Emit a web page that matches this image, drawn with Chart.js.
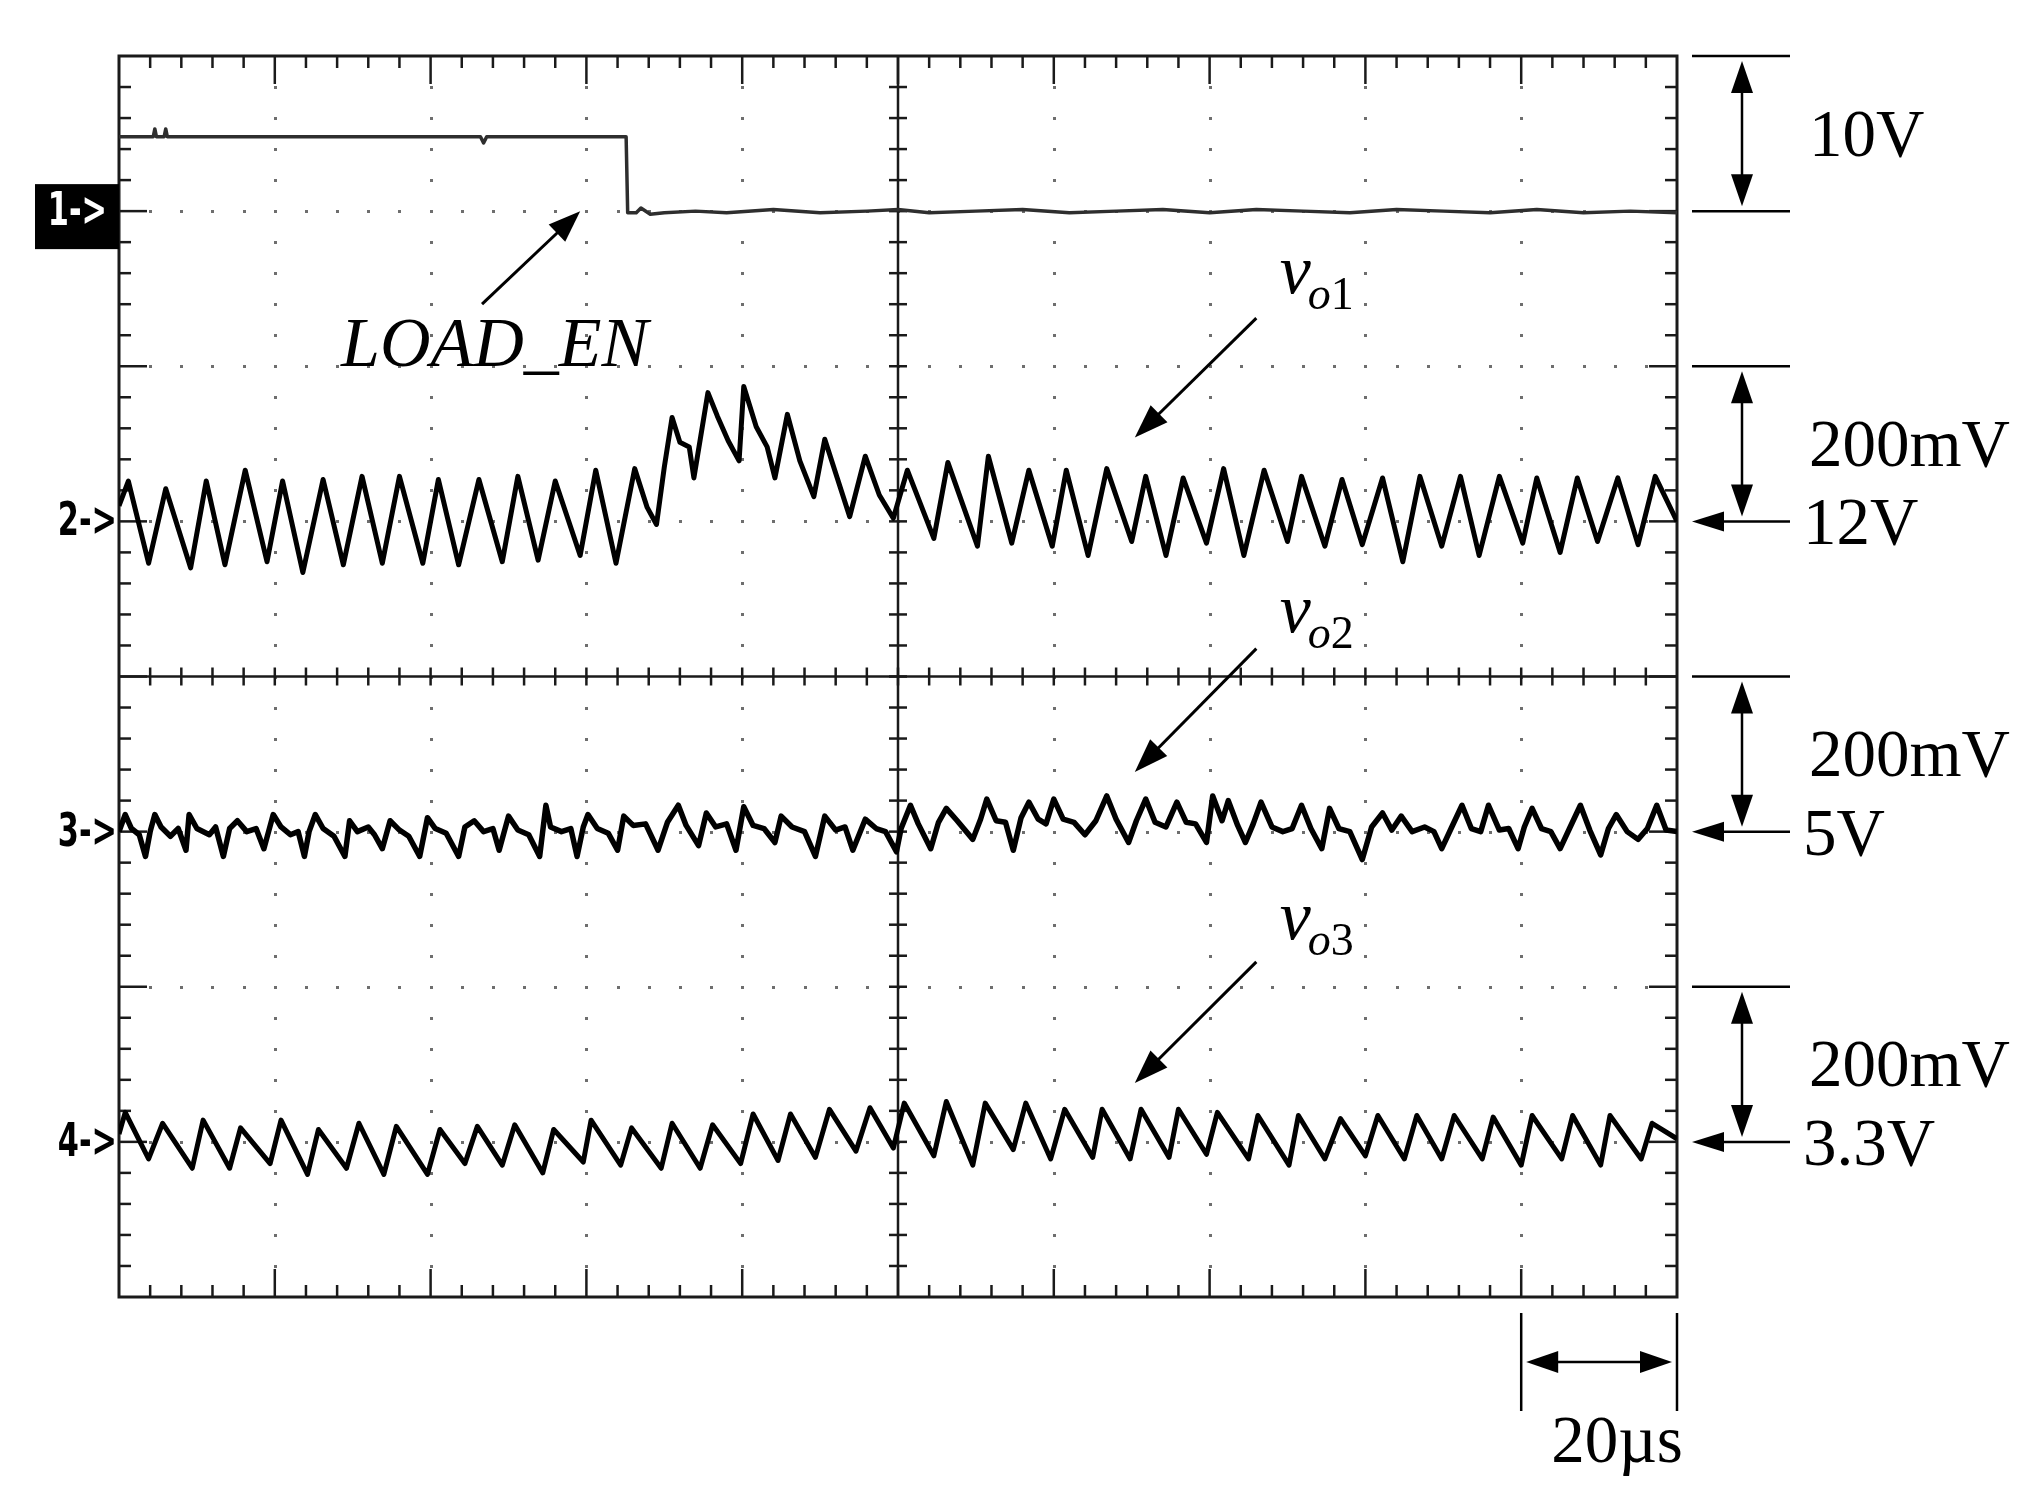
<!DOCTYPE html>
<html>
<head>
<meta charset="utf-8">
<title>LOAD_EN step, output ripple</title>
<script src="https://cdn.jsdelivr.net/npm/chart.js@4.4.1/dist/chart.umd.min.js"></script>
<style>
  html, body { margin:0; padding:0; background:#fff; overflow:hidden; }
  #box { width:2034px; height:1491px; }
</style>
</head>
<body>
<div id="box"><canvas id="scope"></canvas></div>
<script>
// scope capture, 20us/div, 10 div across
const timeSpan = [0, 200];
const usPerDiv = 20;

// ch1 LOAD_EN (V)
const ch1Time = [0,4.4,4.6,4.8,5.8,6.0,6.2,46.4,46.8,47.2,65.1,65.3,66.4,67.0,68.2,70,
  74,78,84,90,96,100,104,110,116,122,128,134,140,146,152,158,164,170,176,182,188,194,200];
const ch1Volt = [4.8,4.8,5.3,4.8,4.8,5.3,4.8,4.8,4.4,4.8,4.8,-0.1,-0.1,0.2,-0.2,-0.1,
  0,-0.1,0.1,-0.1,0,0.1,-0.1,0,0.1,-0.1,0,0.1,-0.1,0.1,0,-0.1,0.1,0,-0.1,0.1,-0.1,0,-0.1];

// ch2 vo1, mV around 12V
const ch2Time = [0,1.2,3.8,6.0,9.2,11.2,13.6,16.2,19.0,21.0,
  23.6,26.2,28.8,31.2,33.8,36.0,39.0,41.0,43.6,46.2,
  49.2,51.2,53.8,56.0,59.2,61.2,63.8,66.2,67.8,69.0,
  70.0,71.0,72.0,73.2,73.8,75.6,76.8,78.2,79.6,80.2,
  81.8,83.2,84.2,85.8,87.4,89.2,90.6,92.2,93.8,95.8,
  97.6,99.4,101.2,104.6,106.4,110.2,111.6,114.6,116.8,119.8,
  121.6,124.4,126.8,130.0,131.8,134.4,136.6,139.6,141.8,144.4,
  147.0,150.0,151.8,154.8,157.0,159.6,162.2,164.8,167.0,169.8,
  172.2,174.6,177.2,180.2,182.0,185.0,187.2,189.8,192.4,195.0,
  197.2,200];
const ch2mV = [20,52,-54,42,-60,52,-56,66,-52,52,
  -66,54,-56,58,-54,58,-54,54,-56,54,
  -52,58,-50,52,-44,66,-54,68,18,-4,
  70,134,102,96,56,166,136,104,78,174,
  122,96,56,138,78,32,106,56,6,84,
  34,4,66,-22,76,-32,84,-28,66,-32,
  66,-44,68,-26,58,-44,56,-28,68,-44,
  66,-26,58,-32,54,-30,56,-52,58,-32,
  58,-44,58,-28,56,-40,56,-26,56,-30,
  58,0];

// ch3 vo2, mV around 5V
const ch3Time = [0,0.8,1.6,2.6,3.4,4.0,4.6,5.4,6.6,7.6,
  8.6,9.0,10.0,11.6,12.4,13.4,14.2,15.2,16.4,17.6,
  18.6,19.2,19.8,20.8,22.0,23.0,23.8,24.4,25.2,26.2,
  27.6,29.0,29.6,30.6,32.0,32.8,33.8,34.8,36.0,37.2,
  38.6,39.6,40.6,42.0,43.6,44.4,45.6,46.8,48.0,48.8,
  50.0,51.2,52.6,54.0,54.8,55.4,56.8,58.0,58.8,59.6,
  60.2,61.4,62.8,64.0,64.8,66.0,67.6,69.2,70.4,71.8,
  72.8,74.4,75.4,76.6,78.0,79.2,80.2,81.4,82.8,84.2,
  85.0,86.4,88.0,89.4,90.6,92.0,93.2,94.2,95.8,97.2,
  98.4,99.8,
  100.4,101.6,102.6,104.2,105.2,106.2,107.6,109.6,110.6,111.4,
  112.6,113.8,114.8,115.8,116.8,118.0,119.0,120.0,121.2,122.6,
  124.0,125.4,126.8,128.0,129.6,130.6,131.8,133.0,134.4,135.8,
  137.0,138.2,139.6,140.4,141.6,142.4,143.6,144.6,145.6,146.6,
  148.0,149.4,150.6,151.8,153.0,154.4,155.4,156.6,158.0,159.6,
  160.8,162.2,163.4,164.6,166.0,167.6,168.8,169.8,171.0,172.4,
  173.6,174.8,175.8,177.2,178.4,179.6,180.4,181.4,182.6,183.8,
  185.0,186.2,187.6,188.8,190.2,191.2,192.2,193.6,195.0,196.2,
  197.4,198.6,200];
const ch3mV = [0,22,4,-4,-32,0,22,6,-6,4,
  -24,22,4,-4,6,-32,4,14,0,4,
  -22,0,22,6,-4,0,-32,0,22,4,
  -6,-32,14,0,6,-4,-22,14,2,-6,
  -32,18,4,-2,-32,6,14,0,4,-24,
  20,2,-4,-32,34,6,0,4,-32,6,
  22,4,-2,-24,20,8,10,-24,12,34,
  8,-18,24,6,10,-24,32,8,4,-14,
  20,6,0,-32,20,2,6,-24,16,4,
  0,-26,
  4,34,10,-22,12,30,14,-10,16,42,
  14,12,-24,18,38,16,10,42,16,12,
  -4,14,46,16,-14,14,42,12,6,38,
  12,10,-14,46,14,40,8,-14,10,38,
  6,0,4,34,4,-22,30,4,0,-36,
  6,24,2,20,0,6,0,-22,4,34,
  4,0,34,2,4,-22,6,30,4,0,
  -22,4,34,2,-30,4,22,0,-10,4,
  34,2,0];

// ch4 vo3, mV around 3.3V
const ch4Time = [0,0.8,3.8,5.6,9.4,10.8,14.2,15.6,19.4,20.8,
  24.2,25.6,29.2,30.8,34.0,35.6,39.6,41.2,44.4,46.0,
  49.2,50.8,54.4,55.8,59.6,60.6,64.4,65.8,69.6,71.0,
  74.6,76.2,79.8,81.4,84.6,86.2,89.4,91.2,94.6,96.4,
  99.4,100.8,104.6,106.2,109.6,111.2,114.8,116.4,119.6,121.4,
  125.0,126.2,129.8,131.2,134.8,136.0,139.6,141.0,145.0,146.2,
  150.2,151.4,154.8,156.8,160.0,161.6,165.0,166.6,169.8,171.4,
  175.0,176.4,180.0,181.4,185.2,186.6,190.2,191.4,195.4,196.8,
  200];
const ch4mV = [10,38,-22,24,-34,28,-34,18,-28,28,
  -42,16,-34,24,-42,20,-42,16,-28,20,
  -30,22,-40,16,-26,28,-30,18,-34,24,
  -34,22,-28,36,-24,36,-20,42,-12,44,
  -8,50,-18,52,-30,50,-10,50,-22,42,
  -20,42,-22,42,-20,42,-16,38,-22,34,
  -30,34,-22,30,-18,34,-22,34,-22,34,
  -22,32,-30,34,-22,34,-30,34,-22,24,
  4];

const chNames = ['LOAD_EN', 'vo1', 'vo2', 'vo3'];
const chPerDiv = [10, 200, 200, 200];   // V/div on ch1, mV/div on the others
const chGroundDiv = [7, 5, 3, 1];       // marker position, div from bottom
const chScaleText = ['10V', '200mV', '200mV', '200mV'];
const chLevelText = ['', '12V', '5V', '3.3V'];
const timeScaleText = '20\u00b5s';

const serif = '"Liberation Serif", "Times New Roman", serif';

function seg(ctx, x0, y0, x1, y1){
  ctx.beginPath(); ctx.moveTo(x0, y0); ctx.lineTo(x1, y1); ctx.stroke();
}
function head(ctx, tx, ty, ang, len, half){
  const c = Math.cos(ang), s = Math.sin(ang);
  ctx.beginPath();
  ctx.moveTo(tx, ty);
  ctx.lineTo(tx - len*c - half*s, ty - len*s + half*c);
  ctx.lineTo(tx - len*c + half*s, ty - len*s - half*c);
  ctx.closePath(); ctx.fill();
}
function arrow(ctx, x0, y0, x1, y1, len, half, both){
  const ang = Math.atan2(y1-y0, x1-x0), c = Math.cos(ang), s = Math.sin(ang);
  const sx = both ? x0 + len*0.8*c : x0, sy = both ? y0 + len*0.8*s : y0;
  seg(ctx, sx, sy, x1 - len*0.8*c, y1 - len*0.8*s);
  head(ctx, x1, y1, ang, len, half);
  if (both) head(ctx, x0, y0, ang + Math.PI, len, half);
}

// oscilloscope graticule: dotted divisions, solid centre cross, ticked frame
const graticule = {
  id: 'graticule',
  beforeDatasetsDraw(chart){
    const {ctx, chartArea: a, scales} = chart;
    const px = d => scales.x.getPixelForValue(d*usPerDiv);
    const py = d => scales.y.getPixelForValue(d);
    const dot = (x, y) => ctx.fillRect(Math.round(x)-1, Math.round(y)-1, 3, 3);
    ctx.save();
    ctx.fillStyle = '#6e6e6e';
    for (let i = 1; i < 10; i++){ if (i === 5) continue; for (let k = 1; k < 40; k++) dot(px(i), py(k/5)); }
    for (let j = 1; j < 8; j++){ if (j === 4) continue; for (let k = 1; k < 50; k++) dot(px(k/5), py(j)); }
    ctx.strokeStyle = '#1a1a1a';
    ctx.lineWidth = 2.5;
    seg(ctx, px(5), a.top, px(5), a.bottom);
    seg(ctx, a.left, py(4), a.right, py(4));
    for (let k = 1; k < 40; k++) seg(ctx, px(5)-9, py(k/5), px(5)+9, py(k/5));
    for (let k = 1; k < 50; k++) seg(ctx, px(k/5), py(4)-9, px(k/5), py(4)+9);
    for (let k = 1; k < 50; k++){
      const L = k % 5 === 0 ? 28 : 12, x = px(k/5);
      seg(ctx, x, a.top, x, a.top + L);
      seg(ctx, x, a.bottom, x, a.bottom - L);
    }
    for (let k = 1; k < 40; k++){
      const L = k % 5 === 0 ? 28 : 12, y = py(k/5);
      seg(ctx, a.left, y, a.left + L, y);
      seg(ctx, a.right, y, a.right - L, y);
    }
    ctx.lineWidth = 3;
    ctx.strokeRect(a.left, a.top, a.right - a.left, a.bottom - a.top);
    ctx.restore();
  }
};

// channel markers, volt/div brackets, time bracket, trace labels
const annotate = {
  id: 'annotate',
  afterDatasetsDraw(chart){
    const {ctx, chartArea: a, scales} = chart;
    const px = t => scales.x.getPixelForValue(t);
    const py = d => scales.y.getPixelForValue(d);
    ctx.save();
    ctx.fillStyle = '#000';
    ctx.strokeStyle = '#000';

    // left markers
    chNames.forEach((n, i) => {
      const y = scales['y' + (i+1)].getPixelForValue(0);
      const label = (i+1) + '->';
      ctx.save();
      if (i === 0){
        ctx.fillRect(a.left - 84, y - 27, 84, 65);
        ctx.fillStyle = '#fff';
      }
      ctx.font = 'bold 46px "DejaVu Sans"';
      ctx.textBaseline = 'middle';
      ctx.textAlign = 'right';
      ctx.translate(i === 0 ? a.left - 12 : a.left - 2, y + 2);
      ctx.scale(0.66, 1);
      ctx.fillText(label, 0, 0);
      ctx.restore();
    });

    // right brackets
    const x0 = a.right + 15, x1 = a.right + 113, ax = a.right + 65;
    ctx.lineWidth = 2.5;
    ctx.font = '67px ' + serif;
    ctx.textBaseline = 'alphabetic';
    ctx.textAlign = 'left';
    chNames.forEach((n, i) => {
      const sc = scales['y' + (i+1)];
      const yTop = sc.getPixelForValue(chPerDiv[i]);
      const yGnd = sc.getPixelForValue(0);
      seg(ctx, x0, yTop, x1, yTop);
      if (i === 0){
        seg(ctx, x0, yGnd, x1, yGnd);
      } else {
        arrow(ctx, x1, yGnd, x0, yGnd, 32, 10, false);
      }
      arrow(ctx, ax, yTop + 5, ax, yGnd - 5, 32, 11, true);
      ctx.fillText(chScaleText[i], a.right + 132, (yTop + yGnd)/2 + 22);
      if (chLevelText[i]) ctx.fillText(chLevelText[i], a.right + 126, yGnd + 23);
    });

    // time bracket, one division
    const tA = px(timeSpan[1] - usPerDiv), tB = px(timeSpan[1]);
    seg(ctx, tA, a.bottom + 16, tA, a.bottom + 114);
    seg(ctx, tB, a.bottom + 16, tB, a.bottom + 114);
    arrow(ctx, tA + 5, a.bottom + 65, tB - 5, a.bottom + 65, 32, 11, true);
    ctx.textAlign = 'center';
    ctx.fillText(timeScaleText, (tA + tB)/2 + 18, a.bottom + 165);

    // LOAD_EN
    ctx.textAlign = 'left';
    ctx.font = 'italic 70px ' + serif;
    ctx.fillText('LOAD_EN', px(28.5), py(6.0));
    ctx.lineWidth = 3;
    arrow(ctx, px(46.6), py(6.4), px(59.2), py(7.0), 32, 12, false);

    // vo labels with arrows
    const vLabels = [
      {sub: '1', base: 6.47, tail: 6.31, tip: 5.54},
      {sub: '2', base: 4.29, tail: 4.18, tip: 3.385},
      {sub: '3', base: 2.31, tail: 2.16, tip: 1.38}
    ];
    vLabels.forEach(v => {
      const x = px(149), y = py(v.base);
      ctx.font = 'italic 70px ' + serif;
      ctx.fillText('v', x, y);
      const w = ctx.measureText('v').width;
      ctx.font = 'italic 46px ' + serif;
      ctx.fillText('o', x + w - 3, y + 16);
      const w2 = ctx.measureText('o').width;
      ctx.font = '46px ' + serif;
      ctx.fillText(v.sub, x + w - 3 + w2, y + 16);
      arrow(ctx, px(146), py(v.tail), px(130.4), py(v.tip), 34, 12, false);
    });
    ctx.restore();
  }
};

const traces = [
  {t: ch1Time, v: ch1Volt, color: '#2e2e2e', width: 3.5},
  {t: ch2Time, v: ch2mV, color: '#000', width: 5},
  {t: ch3Time, v: ch3mV, color: '#000', width: 5.5},
  {t: ch4Time, v: ch4mV, color: '#000', width: 5}
];

const datasets = traces.map((tr, i) => ({
  label: chNames[i],
  data: tr.t.map((t, k) => ({x: t, y: tr.v[k]})),
  yAxisID: 'y' + (i+1),
  borderColor: tr.color,
  borderWidth: tr.width,
  pointRadius: 0,
  tension: 0,
  fill: false,
  borderJoinStyle: 'round'
}));

const scales = {
  x: {type: 'linear', min: timeSpan[0], max: timeSpan[1], display: false},
  y: {type: 'linear', min: 0, max: 8, display: false}
};
chPerDiv.forEach((p, i) => {
  scales['y' + (i+1)] = {
    type: 'linear', display: false,
    min: -chGroundDiv[i]*p, max: (8 - chGroundDiv[i])*p
  };
});

new Chart(document.getElementById('scope'), {
  type: 'line',
  data: {datasets},
  options: {
    responsive: true, maintainAspectRatio: false, animation: false,
    devicePixelRatio: 1, events: [],
    layout: {padding: {left: 119, top: 56, right: 357, bottom: 194}},
    plugins: {legend: {display: false}, tooltip: {enabled: false}},
    scales
  },
  plugins: [graticule, annotate]
});
</script>
</body>
</html>
